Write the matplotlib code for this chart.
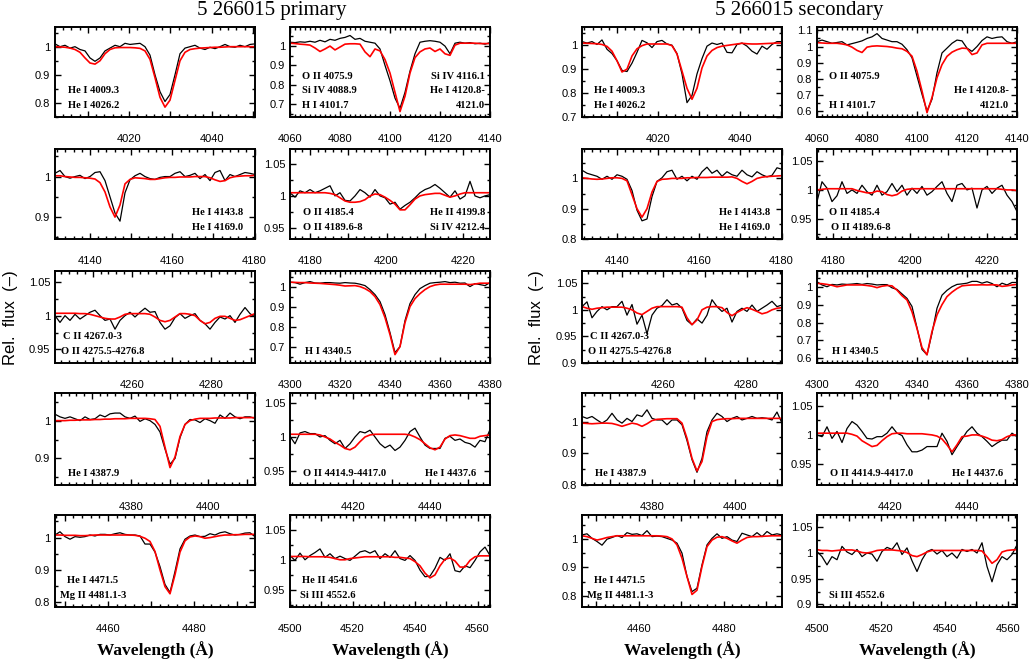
import numpy as np
import matplotlib
matplotlib.use("Agg")
import matplotlib.pyplot as plt
from matplotlib.ticker import MultipleLocator, FuncFormatter

plt.rcParams['font.family'] = ['Liberation Sans', 'DejaVu Sans']

# ---------------------------
# Panel windows (Angstrom) and flux ranges, 5 rows x 2 columns per star
# ---------------------------
prim_windows = [(4002.0, 4050.5), (4060.0, 4140.0), (4131.5, 4180.1), (4174.8, 4227.0),
                (4240.5, 4291.0), (4300.0, 4380.0), (4360.5, 4412.0), (4403.5, 4455.7),
                (4447.7, 4494.2), (4500.0, 4564.0)]
prim_ylims = [(0.75, 1.07), (0.632, 1.099), (0.846, 1.068), (0.932, 1.074), (0.93, 1.066),
              (0.618, 1.078), (0.83, 1.073), (0.929, 1.065), (0.785, 1.07), (0.922, 1.074)]

sec_windows = [(4001.4, 4050.2), (4060.0, 4140.0), (4131.6, 4180.1), (4175.7, 4227.9),
               (4240.5, 4288.5), (4300.0, 4380.0), (4363.2, 4411.2), (4400.9, 4453.1),
               (4446.7, 4493.7), (4500.0, 4562.7)]
sec_ylims = [(0.7, 1.076), (0.563, 1.121), (0.8, 1.097), (0.916, 1.07), (0.9, 1.073),
             (0.574, 1.088), (0.8, 1.09), (0.914, 1.072), (0.761, 1.084), (0.895, 1.074)]

# ---------------------------
# Flux, sampled evenly across each window (black = observed, red = model)
# ---------------------------
obs_p1 = [1.01, 1.0, 1.005, 0.995, 1.0, 0.99, 0.985, 0.96, 0.948, 0.96, 0.985, 0.995, 1.005, 1.0,
          1.012, 1.008, 1.01, 1.012, 1.0, 0.97, 0.9, 0.84, 0.805, 0.83, 0.9, 0.975, 0.995, 1.0,
          1.005, 0.995, 0.99, 0.998, 0.993, 1.0, 1.008, 1.0, 0.998, 1.005, 1.0, 1.008, 1.01]
fit_p1 = [1.0, 0.999, 0.998, 0.995, 0.99, 0.98, 0.96, 0.942, 0.938, 0.95, 0.975, 0.99, 0.996, 0.997,
          0.997, 0.997, 0.996, 0.994, 0.985, 0.955, 0.89, 0.82, 0.785, 0.81, 0.88, 0.95, 0.98, 0.99,
          0.993, 0.995, 0.996, 0.997, 0.998, 0.998, 0.999, 1.0, 1.0, 1.0, 1.0, 1.0, 1.0]

obs_p2 = [1.02, 1.018, 1.022, 1.02, 1.025, 1.02, 1.03, 1.022, 1.035, 1.03, 1.04, 1.045, 1.055, 1.035,
          1.04, 1.025, 1.02, 1.015, 0.985, 0.9, 0.82, 0.73, 0.677, 0.76, 0.87, 0.96, 1.02, 1.025,
          1.028, 1.025, 1.02, 1.0, 0.96, 1.015, 1.02, 1.015, 1.018, 1.012, 1.015, 1.01, 1.018]
fit_p2 = [1.015, 1.013, 1.01, 1.008, 1.005, 0.99, 0.972, 0.985, 1.0, 0.98, 0.995, 1.01, 1.012, 1.012,
          1.01, 0.97, 0.945, 0.985, 0.975, 0.93, 0.86, 0.76, 0.66, 0.74, 0.86, 0.94, 0.97, 0.985,
          0.99, 0.972, 0.985, 0.96, 0.952, 1.005, 1.015, 1.015, 1.015, 1.015, 1.013, 1.013, 1.013]

obs_p3 = [1.008, 1.015, 1.0, 0.996, 1.0, 1.003, 0.995, 1.0, 1.01, 1.012, 0.99, 0.95, 0.91, 0.89,
          0.96, 0.992, 1.002, 1.008, 1.0, 0.995, 0.993, 0.998, 1.0, 1.0, 1.008, 1.012, 1.0, 1.003,
          1.008, 0.995, 1.005, 0.99, 1.01, 1.015, 0.99, 1.005, 1.0, 1.005, 1.01, 1.008, 1.005]
fit_p3 = [1.002, 1.002, 1.0, 0.999, 0.998, 0.998, 0.997, 0.996, 0.994, 0.985, 0.962, 0.925, 0.9, 0.93,
          0.982, 0.993, 0.997, 0.996, 0.995, 0.993, 0.993, 0.995, 0.997, 0.998, 0.998, 0.999, 0.999,
          0.999, 1.0, 1.0, 1.0, 0.997, 0.992, 0.988, 0.99, 0.997, 1.0, 1.001, 1.002, 1.002, 1.003]

obs_p4 = [1.005, 0.998, 1.008, 1.005, 1.01, 1.005, 1.008, 1.012, 1.016, 1.0, 1.005, 0.993, 0.992, 1.0,
          1.01, 1.005, 0.998, 1.01, 1.0, 0.997, 0.987, 0.99, 0.979, 0.985, 0.99, 0.997, 1.005, 1.01,
          1.013, 1.018, 1.012, 1.005, 0.998, 1.008, 0.995, 1.0, 1.023, 1.0, 0.997, 1.0, 1.002]
fit_p4 = [1.005, 1.005, 1.005, 1.005, 1.005, 1.005, 1.005, 1.005, 1.004, 1.002, 0.997, 0.992, 0.99,
          0.99, 0.991, 0.994, 1.0, 1.003, 1.002, 0.998, 0.993, 0.987, 0.978, 0.978, 0.986, 0.995, 1.0,
          1.002, 1.003, 1.004, 1.004, 1.001, 0.998, 1.0, 1.003, 1.005, 1.005, 1.005, 1.005, 1.005, 1.005]

obs_p5 = [1.0, 0.99, 1.0, 0.993, 1.002, 0.995, 1.0, 1.005, 1.008, 1.0, 0.993, 0.995, 0.98, 0.993,
          1.0, 1.005, 0.998, 1.005, 1.011, 1.005, 1.006, 0.99, 0.98, 0.985, 0.997, 1.003, 0.996, 1.0,
          1.003, 0.993, 0.988, 0.98, 0.99, 0.998, 0.995, 1.0, 0.99, 1.002, 1.012, 1.003, 0.998]
fit_p5 = [1.0035, 1.0035, 1.0035, 1.0035, 1.0035, 1.003, 1.003, 1.002, 1.0, 0.998, 0.996, 0.995, 0.995,
          0.998, 1.002, 1.003, 1.003, 1.003, 1.003, 1.002, 0.998, 0.993, 0.991, 0.993, 0.998, 1.003,
          1.003, 1.002, 1.0, 0.993, 0.988, 0.99, 0.996, 0.999, 0.999, 0.996, 0.993, 0.994, 0.997, 1.0,
          1.003]

obs_p6 = [1.022, 1.02, 1.012, 1.02, 1.025, 1.018, 1.017, 1.02, 1.02, 1.018, 1.017, 1.02, 1.018, 1.017,
          1.012, 1.005, 0.985, 0.96, 0.925, 0.86, 0.77, 0.67, 0.7, 0.83, 0.915, 0.96, 0.99, 1.005,
          1.017, 1.02, 1.022, 1.025, 1.02, 1.022, 1.017, 1.018, 1.0, 1.015, 1.01, 1.005, 1.02]
fit_p6 = [1.022, 1.021, 1.02, 1.02, 1.018, 1.017, 1.016, 1.014, 1.012, 1.01, 1.007, 1.003, 1.004, 1.005,
          1.0, 0.99, 0.975, 0.95, 0.91, 0.845, 0.76, 0.66, 0.7, 0.82, 0.9, 0.94, 0.965, 0.985, 1.0,
          1.008, 1.012, 1.012, 1.012, 1.012, 1.012, 1.012, 1.01, 1.013, 1.017, 1.017, 1.017]

obs_p7 = [1.017, 1.01, 1.006, 1.01, 1.005, 1.0, 1.01, 1.003, 1.005, 1.015, 1.01, 1.018, 1.02, 1.02,
          1.01, 1.006, 1.012, 0.998, 1.005, 1.0, 0.99, 0.97, 0.925, 0.885, 0.9, 0.955, 0.99, 1.003,
          1.002, 0.995, 1.005, 1.0, 0.993, 1.015, 1.006, 1.02, 1.01, 1.005, 1.01, 1.01, 1.006]
fit_p7 = [1.0, 1.0, 1.0, 1.001, 1.001, 1.002, 1.002, 1.002, 1.003, 1.003, 1.004, 1.004, 1.005, 1.005,
          1.005, 1.006, 1.006, 1.006, 1.006, 1.005, 1.003, 0.985, 0.93, 0.876, 0.904, 0.958, 0.99, 1.0,
          1.004, 1.006, 1.006, 1.006, 1.007, 1.007, 1.007, 1.007, 1.008, 1.008, 1.008, 1.008, 1.008]

obs_p8 = [1.001, 0.99, 1.006, 1.008, 1.005, 1.005, 1.0, 1.002, 0.995, 0.99, 0.995, 0.983, 0.99, 1.0,
          1.008, 1.006, 1.01, 1.0, 0.99, 0.984, 0.988, 0.98, 0.985, 0.995, 1.008, 1.013, 1.0, 0.988,
          0.983, 0.983, 0.983, 0.998, 1.001, 0.995, 0.997, 0.992, 0.99, 0.985, 0.995, 0.993, 1.011]
fit_p8 = [1.004, 1.004, 1.004, 1.004, 1.004, 1.004, 1.003, 1.0, 0.997, 0.992, 0.988, 0.983, 0.981,
          0.985, 0.993, 1.0, 1.003, 1.004, 1.004, 1.004, 1.004, 1.004, 1.004, 1.004, 1.003, 1.0, 0.996,
          0.99, 0.984, 0.981, 0.985, 0.997, 1.002, 1.003, 1.002, 1.0, 0.998, 0.998, 1.001, 1.002, 1.003]

obs_p9 = [1.008, 1.018, 1.003, 0.995, 1.003, 1.001, 1.003, 1.008, 1.005, 1.01, 1.01, 1.008, 1.012,
          1.015, 1.01, 1.008, 1.008, 1.005, 0.98, 0.98, 0.955, 0.91, 0.855, 0.83, 0.895, 0.965, 0.995,
          1.005, 1.008, 1.003, 1.004, 1.012, 1.008, 1.015, 1.018, 1.012, 1.008, 1.01, 1.014, 1.015, 1.003]
fit_p9 = [1.008, 1.008, 1.007, 1.007, 1.007, 1.006, 1.006, 1.007, 1.008, 1.008, 1.008, 1.008, 1.008,
          1.008, 1.008, 1.008, 1.007, 1.004, 0.998, 0.988, 0.957, 0.9, 0.848, 0.826, 0.885, 0.955, 0.99,
          1.002, 1.005, 1.003, 0.998, 1.0, 1.003, 1.006, 1.008, 1.008, 1.009, 1.009, 1.01, 1.01, 1.01]

obs_p10 = [1.007, 0.999, 1.011, 1.0, 1.007, 1.012, 1.018, 1.004, 1.01, 1.002, 1.006, 1.002, 0.999,
           1.006, 1.013, 1.015, 1.011, 1.015, 1.002, 1.01, 1.004, 1.015, 1.002, 0.999, 1.007, 0.999,
           0.983, 0.972, 0.973, 0.986, 1.004, 0.999, 1.01, 0.982, 0.98, 0.99, 0.987, 0.999, 1.013,
           1.021, 1.007]
fit_p10 = [1.0055, 1.0055, 1.0055, 1.0055, 1.005, 1.005, 1.005, 1.005, 1.004, 1.002, 1.0, 1.0, 1.002,
           1.003, 1.004, 1.005, 1.005, 1.005, 1.005, 1.005, 1.005, 1.004, 1.004, 1.003, 1.002, 0.997,
           0.99, 0.978, 0.97, 0.975, 0.99, 1.001, 1.003, 0.998, 0.988, 0.988, 0.999, 1.005, 1.0065,
           1.0065, 1.0065]

obs_s1 = [1.015, 1.009, 1.015, 1.003, 1.022, 0.983, 0.965, 0.935, 0.895, 0.89, 0.925, 0.97, 1.02, 1.01,
          0.99, 1.015, 1.02, 1.005, 1.0, 0.965, 0.88, 0.76, 0.79, 0.88, 0.944, 0.996, 1.009, 1.003,
          1.009, 0.97, 0.968, 1.003, 1.009, 0.996, 0.975, 0.963, 0.996, 0.983, 1.003, 1.015, 1.015]
fit_s1 = [1.009, 1.008, 1.007, 1.006, 1.003, 0.995, 0.975, 0.935, 0.888, 0.9, 0.955, 0.985, 0.998,
          1.005, 1.005, 1.005, 1.005, 1.005, 0.998, 0.963, 0.892, 0.82, 0.774, 0.82, 0.905, 0.955,
          0.978, 0.99, 0.996, 0.999, 1.002, 1.005, 1.008, 1.006, 1.005, 1.005, 1.006, 1.007, 1.008,
          1.009, 1.009]

obs_s2 = [1.03, 1.04, 1.03, 1.02, 1.025, 1.03, 1.01, 1.018, 1.026, 1.035, 1.05, 1.06, 1.08, 1.05, 1.04,
          1.03, 1.03, 1.014, 0.98, 0.93, 0.816, 0.704, 0.6, 0.673, 0.837, 0.96, 0.99, 1.02, 1.04,
          1.035, 0.99, 0.97, 1.0, 1.037, 1.06, 1.05, 1.057, 1.06, 1.03, 1.02, 1.03]
fit_s2 = [1.024, 1.022, 1.02, 1.02, 1.02, 1.016, 1.01, 0.996, 0.976, 0.963, 0.996, 1.002, 1.004, 1.002,
          1.0, 0.996, 0.99, 0.986, 0.97, 0.94, 0.847, 0.724, 0.59, 0.684, 0.806, 0.888, 0.939, 0.965,
          0.98, 0.99, 0.988, 0.95, 0.96, 1.01, 1.02, 1.02, 1.02, 1.02, 1.02, 1.02, 1.02]

obs_s3 = [1.027, 1.017, 1.012, 1.007, 0.997, 1.007, 0.997, 1.012, 1.007, 0.997, 0.96, 0.895, 0.86,
          0.866, 0.94, 0.99, 1.002, 1.022, 1.027, 0.997, 1.007, 0.992, 1.007, 0.997, 1.022, 1.037,
          1.017, 1.027, 1.007, 1.022, 1.012, 1.007, 1.027, 1.012, 1.005, 1.022, 1.012, 1.005, 1.01,
          1.035, 1.03]
fit_s3 = [1.002, 1.0, 0.998, 0.997, 0.998, 1.0, 1.002, 1.002, 1.0, 0.992, 0.946, 0.9, 0.872, 0.9,
          0.955, 0.99, 0.997, 0.998, 1.0, 1.0, 1.0, 1.002, 1.002, 1.003, 1.003, 1.003, 1.004, 1.004,
          1.004, 1.004, 1.005, 1.0, 0.99, 0.982, 0.99, 1.0, 1.004, 1.006, 1.007, 1.008, 1.009]

obs_s4 = [0.98, 1.014, 1.003, 0.98, 0.99, 1.014, 0.994, 1.0, 0.994, 1.008, 0.997, 0.991, 1.008, 0.991,
          0.997, 1.011, 0.997, 1.008, 0.991, 1.003, 0.994, 1.006, 0.991, 0.997, 1.006, 1.014, 0.994,
          0.98, 1.008, 1.011, 1.0, 1.003, 0.969, 1.0, 1.006, 0.994, 1.003, 1.008, 0.991, 0.98, 0.963]
fit_s4 = [1.0, 1.001, 1.002, 1.002, 1.002, 1.002, 1.002, 1.002, 0.999, 0.997, 0.995, 0.995, 0.998,
          0.997, 0.992, 0.99, 0.992, 0.998, 1.001, 1.002, 1.002, 1.002, 1.002, 1.002, 1.002, 1.002,
          1.002, 1.002, 1.002, 1.002, 1.002, 1.002, 1.002, 1.002, 1.002, 1.002, 1.002, 1.001, 1.0,
          1.0, 0.999]

obs_s5 = [1.006, 1.015, 0.985, 0.997, 1.006, 1.0, 1.006, 1.006, 1.016, 0.99, 1.01, 0.973, 0.99, 0.955,
          0.99, 1.003, 1.008, 1.019, 1.009, 1.012, 1.003, 0.98, 0.972, 0.983, 0.975, 0.99, 1.019, 1.006,
          0.997, 1.003, 0.977, 0.997, 1.003, 0.997, 1.009, 0.997, 1.003, 1.009, 1.016, 1.006, 1.009]
fit_s5 = [1.006, 1.003, 1.001, 1.003, 1.004, 1.005, 1.005, 1.005, 1.005, 1.003, 1.0, 0.994, 0.991,
          0.997, 1.003, 1.006, 1.006, 1.006, 1.006, 1.006, 1.005, 0.985, 0.972, 0.981, 1.0, 1.005,
          1.006, 1.006, 1.004, 0.995, 0.989, 0.995, 1.0, 1.004, 1.001, 0.997, 0.9925, 0.995, 1.0,
          1.003, 1.004]

obs_s6 = [1.028, 1.01, 1.0, 1.013, 1.01, 1.015, 1.013, 1.015, 1.018, 1.013, 1.018, 1.015, 1.01, 1.012,
          1.012, 0.994, 0.985, 0.96, 0.935, 0.89, 0.77, 0.65, 0.62, 0.74, 0.88, 0.953, 0.98, 1.0,
          1.013, 1.016, 1.02, 1.03, 1.03, 1.02, 1.028, 1.018, 1.0, 1.02, 1.01, 1.024, 1.024]
fit_s6 = [1.019, 1.017, 1.013, 1.008, 1.0, 1.005, 1.01, 1.01, 1.01, 1.01, 1.007, 1.003, 0.995, 1.003,
          1.007, 1.005, 0.981, 0.95, 0.926, 0.86, 0.767, 0.66, 0.62, 0.75, 0.843, 0.9, 0.945, 0.97,
          0.99, 1.005, 1.008, 1.01, 1.01, 1.011, 1.01, 1.011, 1.01, 1.002, 1.005, 1.01, 1.013]

obs_s7 = [1.016, 1.01, 1.016, 1.005, 0.995, 1.005, 1.026, 1.005, 0.995, 1.01, 1.0, 1.021, 1.016, 1.037,
          1.01, 1.005, 1.005, 0.99, 1.005, 1.005, 0.99, 0.94, 0.88, 0.84, 0.884, 0.968, 1.005, 1.026,
          1.016, 1.0, 1.01, 1.016, 1.005, 1.01, 1.016, 1.01, 1.012, 1.01, 1.005, 1.03, 0.995]
fit_s7 = [0.995, 0.994, 0.993, 0.994, 0.995, 0.995, 0.994, 0.99, 0.985, 0.99, 0.995, 0.992, 0.985,
          0.993, 1.003, 1.007, 1.008, 1.009, 1.009, 1.009, 0.995, 0.947, 0.884, 0.844, 0.874, 0.953,
          1.0, 1.006, 1.008, 1.009, 1.009, 1.01, 1.01, 1.01, 1.01, 1.01, 1.01, 1.01, 1.01, 1.01, 1.01]

obs_s8 = [1.0, 0.997, 1.014, 0.994, 1.006, 0.987, 1.011, 1.023, 1.017, 1.006, 0.994, 0.993, 0.997,
          0.997, 1.003, 1.014, 1.003, 0.999, 0.983, 0.971, 0.971, 0.974, 0.98, 0.98, 0.98, 1.003, 0.989,
          0.966, 0.98, 0.993, 1.006, 1.014, 1.003, 0.997, 0.989, 0.98, 0.986, 0.991, 0.991, 1.003, 0.997]
fit_s8 = [1.003, 1.003, 1.003, 1.003, 1.003, 1.003, 1.003, 1.001, 0.998, 0.99, 0.985, 0.98, 0.982,
          0.99, 0.997, 1.002, 1.003, 1.003, 1.002, 1.002, 1.002, 1.002, 1.001, 1.0, 0.998, 0.993, 0.983,
          0.971, 0.983, 0.997, 0.998, 1.0, 1.0, 0.998, 0.995, 0.991, 0.99, 0.992, 0.997, 1.0, 1.0]

obs_s9 = [1.014, 1.018, 1.002, 0.991, 0.978, 0.999, 1.005, 1.012, 1.005, 1.022, 1.016, 1.018, 1.012,
          1.029, 1.008, 1.01, 1.008, 1.002, 0.996, 0.985, 0.95, 0.868, 0.815, 0.827, 0.909, 0.979,
          1.002, 1.018, 1.002, 1.008, 0.996, 0.991, 1.02, 1.014, 1.008, 1.022, 1.008, 1.026, 1.014,
          1.018, 1.014]
fit_s9 = [1.011, 1.008, 1.002, 0.996, 1.0, 1.005, 1.008, 1.011, 1.011, 1.011, 1.011, 1.011, 1.011,
          1.011, 1.011, 1.011, 1.01, 1.008, 1.0, 0.979, 0.932, 0.868, 0.805, 0.82, 0.903, 0.973, 0.996,
          1.006, 1.008, 1.002, 0.993, 0.985, 0.996, 1.005, 1.008, 1.008, 1.009, 1.01, 1.011, 1.011, 1.011]

obs_s10 = [1.003, 0.993, 0.977, 0.993, 0.987, 1.013, 1.002, 0.997, 1.007, 0.993, 1.0, 0.998, 0.984,
           1.003, 1.011, 1.007, 1.02, 0.997, 1.01, 0.985, 0.964, 0.987, 1.003, 1.007, 0.998, 1.005,
           0.993, 1.0, 0.99, 1.007, 1.003, 1.007, 1.0, 1.02, 0.974, 0.944, 0.977, 0.993, 0.987, 0.997,
           1.016]
fit_s10 = [1.0066, 1.005, 1.005, 1.004, 1.005, 1.006, 1.006, 1.006, 1.004, 1.001, 1.0, 1.002, 1.005,
           1.006, 1.006, 1.006, 1.005, 1.004, 1.001, 0.995, 0.993, 0.997, 1.002, 1.005, 1.005, 1.005,
           1.005, 1.005, 1.005, 1.005, 1.005, 1.005, 1.005, 1.004, 0.993, 0.98, 0.987, 1.002, 1.005,
           1.006, 1.0066]

# ---------------------------
# Line identifications: (text, x, y in axes fraction, alignment)
# ---------------------------
prim_labels = [
    [("He I 4009.3", 0.065, 0.29, 'left'), ("He I 4026.2", 0.065, 0.13, 'left')],
    [("O II 4075.9", 0.06, 0.45, 'left'), ("Si IV 4088.9", 0.06, 0.29, 'left'),
     ("H I 4101.7", 0.06, 0.13, 'left'), ("Si IV 4116.1", 0.975, 0.45, 'right'),
     ("He I 4120.8-", 0.975, 0.29, 'right'), ("4121.0", 0.975, 0.13, 'right')],
    [("He I 4143.8", 0.94, 0.29, 'right'), ("He I 4169.0", 0.94, 0.13, 'right')],
    [("O II 4185.4", 0.065, 0.29, 'left'), ("O II 4189.6-8", 0.065, 0.13, 'left'),
     ("He II 4199.8", 0.975, 0.29, 'right'), ("Si IV 4212.4", 0.975, 0.13, 'right')],
    [("C II 4267.0-3", 0.04, 0.29, 'left'), ("O II 4275.5-4276.8", 0.03, 0.13, 'left')],
    [("H I 4340.5", 0.075, 0.13, 'left')],
    [("He I 4387.9", 0.065, 0.13, 'left')],
    [("O II 4414.9-4417.0", 0.067, 0.13, 'left'), ("He I 4437.6", 0.93, 0.13, 'right')],
    [("He I 4471.5", 0.06, 0.29, 'left'), ("Mg II 4481.1-3", 0.025, 0.13, 'left')],
    [("He II 4541.6", 0.06, 0.29, 'left'), ("Si III 4552.6", 0.05, 0.13, 'left')],
]
sec_labels = [
    [("He I 4009.3", 0.06, 0.29, 'left'), ("He I 4026.2", 0.06, 0.13, 'left')],
    [("O II 4075.9", 0.06, 0.45, 'left'), ("H I 4101.7", 0.06, 0.13, 'left'),
     ("He I 4120.8-", 0.96, 0.29, 'right'), ("4121.0", 0.96, 0.13, 'right')],
    [("He I 4143.8", 0.94, 0.29, 'right'), ("He I 4169.0", 0.94, 0.13, 'right')],
    [("O II 4185.4", 0.06, 0.29, 'left'), ("O II 4189.6-8", 0.07, 0.13, 'left')],
    [("C II 4267.0-3", 0.04, 0.29, 'left'), ("O II 4275.5-4276.8", 0.03, 0.13, 'left')],
    [("H I 4340.5", 0.075, 0.13, 'left')],
    [("He I 4387.9", 0.065, 0.13, 'left')],
    [("O II 4414.9-4417.0", 0.067, 0.13, 'left'), ("He I 4437.6", 0.93, 0.13, 'right')],
    [("He I 4471.5", 0.06, 0.29, 'left'), ("Mg II 4481.1-3", 0.025, 0.13, 'left')],
    [("Si III 4552.6", 0.06, 0.13, 'left')],
]

prim_obs = [obs_p1, obs_p2, obs_p3, obs_p4, obs_p5, obs_p6, obs_p7, obs_p8, obs_p9, obs_p10]
prim_fit = [fit_p1, fit_p2, fit_p3, fit_p4, fit_p5, fit_p6, fit_p7, fit_p8, fit_p9, fit_p10]
sec_obs = [obs_s1, obs_s2, obs_s3, obs_s4, obs_s5, obs_s6, obs_s7, obs_s8, obs_s9, obs_s10]
sec_fit = [fit_s1, fit_s2, fit_s3, fit_s4, fit_s5, fit_s6, fit_s7, fit_s8, fit_s9, fit_s10]


def xlabel_fmt(v, pos):
    if abs(v / 20.0 - round(v / 20.0)) < 1e-6:
        return '%d' % round(v)
    return ''


def ylabel_fmt(v, pos):
    return '%g' % round(v, 3)


def draw_panel(ax, win, ylim, obs, fit, labels):
    ax.plot(np.linspace(win[0], win[1], len(obs)), obs, color='black', lw=0.9)
    ax.plot(np.linspace(win[0], win[1], len(fit)), fit, color='#ff0000', lw=1.2)
    ax.set_xlim(win)
    ax.set_ylim(ylim)

    span = win[1] - win[0]
    ax.xaxis.set_major_locator(MultipleLocator(20 if span > 70 else 10))
    ax.xaxis.set_minor_locator(MultipleLocator(2))
    ax.xaxis.set_major_formatter(FuncFormatter(xlabel_fmt))
    ystep = 0.1 if ylim[1] - ylim[0] > 0.2 else 0.05
    ax.yaxis.set_major_locator(MultipleLocator(ystep))
    ax.yaxis.set_minor_locator(MultipleLocator(ystep / 2))
    ax.yaxis.set_major_formatter(FuncFormatter(ylabel_fmt))

    ax.tick_params(which='both', direction='in', top=True, right=True, width=1.0, color='black')
    ax.tick_params(which='major', length=4.5, labelsize=8)
    ax.tick_params(which='minor', length=2.2)
    ax.tick_params(axis='x', which='major', pad=12.5)
    ax.tick_params(axis='y', which='major', pad=3.5)
    for sp in ax.spines.values():
        sp.set_linewidth(1.4)

    for txt, tx, ty, ha in labels:
        ax.text(tx, ty, txt, transform=ax.transAxes, ha=ha, va='center',
                fontsize=7.6, fontweight='bold', family='Liberation Serif')


# ---------------------------
# Layout (pixel positions of the panel frames)
# ---------------------------
W_PX, H_PX = 1029, 659
fig = plt.figure(figsize=(W_PX / 100, H_PX / 100), dpi=100)

row_top = [27, 149, 271, 393, 515]
row_h = [90, 90, 92, 92, 92]
panel_w = 200
col_x = {'prim': [55, 290], 'sec': [582, 817]}

groups = [('prim', prim_windows, prim_ylims, prim_obs, prim_fit, prim_labels),
          ('sec', sec_windows, sec_ylims, sec_obs, sec_fit, sec_labels)]

for name, wins, ylims, obs_all, fit_all, lab_all in groups:
    for i in range(10):
        r, c = divmod(i, 2)
        x0 = col_x[name][c]
        y0 = row_top[r]
        ax = fig.add_axes([x0 / W_PX, 1 - (y0 + row_h[r]) / H_PX, panel_w / W_PX, row_h[r] / H_PX])
        draw_panel(ax, wins[i], ylims[i], obs_all[i], fit_all[i], lab_all[i])

# titles
fig.text(272 / W_PX, 1 - 10 / H_PX, "5 266015 primary", ha='center', va='center',
         fontsize=15, family='Liberation Serif')
fig.text(799 / W_PX, 1 - 10 / H_PX, "5 266015 secondary", ha='center', va='center',
         fontsize=15, family='Liberation Serif')

# axis titles
for xc in [155, 390, 682, 917]:
    fig.text(xc / W_PX, 1 - 650 / H_PX, "Wavelength (Å)", ha='center', va='center',
             fontsize=12.5, fontweight='bold', family='Liberation Serif')
for xc in [11, 536]:
    fig.text(xc / W_PX, 1 - 318 / H_PX, "Rel.  flux  (–)", ha='center', va='center',
             rotation=90, fontsize=12)

plt.savefig("out.png", dpi=100)
